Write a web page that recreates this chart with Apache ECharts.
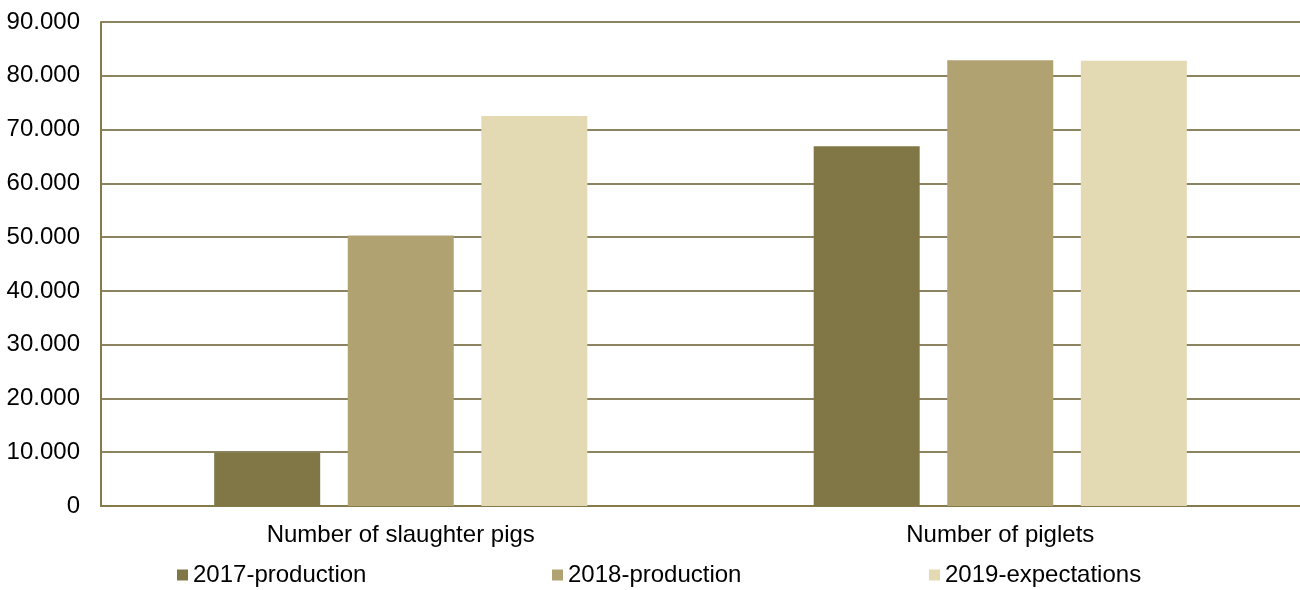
<!DOCTYPE html>
<html>
<head>
<meta charset="utf-8">
<title>Pigs</title>
<script src="https://cdn.jsdelivr.net/npm/echarts@6/dist/echarts.min.js"></script>
<style>
    html, body { margin: 0; padding: 0; background: #fff; }
    #main { width: 1300px; height: 590px; }
</style>
</head>
<body>
<div id="main"></div>
<script>
/** data */
var categories = ['Number of slaughter pigs', 'Number of piglets'];
var seriesNames = ['2017-production', '2018-production', '2019-expectations'];
var production2017 = [9900, 66900];
var production2018 = [50300, 82900];
var expectations2019 = [72500, 82800];
var colors = ['#817746', '#b0a371', '#e3dab3'];

(function () {

    var FONT = '"Liberation Sans", Arial, sans-serif';

    /**
     * 90000 -> 90.000
     */
    function fmt(v) {
        return String(v).replace(/\B(?=(\d{3})+(?!\d))/g, '.');
    }

    function makeSeries(name, data, color) {
        return {
            name: name,
            type: 'bar',
            data: data,
            barWidth: 106,
            barGap: '26%',
            itemStyle: { color: color },
            emphasis: { disabled: true }
        };
    }

    // one legend per item so each sits at its own slot
    function makeLegend(name, left) {
        return {
            data: [name],
            left: left,
            top: 558,
            icon: 'rect',
            itemWidth: 11,
            itemHeight: 11,
            itemGap: 0,
            selectedMode: false,
            textStyle: { fontFamily: FONT, fontSize: 24, color: '#000' }
        };
    }

    var option = {
        animation: false,
        color: colors,
        legend: [
            makeLegend(seriesNames[0], 172),
            makeLegend(seriesNames[1], 547),
            makeLegend(seriesNames[2], 924)
        ],
        grid: { left: 101, right: 0, top: 22, bottom: 84 },
        xAxis: {
            type: 'category',
            data: categories,
            axisLine: { lineStyle: { color: '#857b4a', width: 2 } },
            axisTick: { show: false },
            axisLabel: { fontFamily: FONT, fontSize: 24, color: '#000', margin: 17 }
        },
        yAxis: {
            type: 'value',
            min: 0,
            max: 90000,
            interval: 10000,
            axisLine: { show: true, lineStyle: { color: '#857b4a', width: 2 } },
            axisTick: { show: false },
            splitLine: { lineStyle: { color: '#8c8360', width: 2 } },
            axisLabel: { fontFamily: FONT, fontSize: 24, color: '#000', margin: 21, formatter: fmt }
        },
        series: [
            makeSeries(seriesNames[0], production2017, colors[0]),
            makeSeries(seriesNames[1], production2018, colors[1]),
            makeSeries(seriesNames[2], expectations2019, colors[2])
        ]
    };

    var myChart = echarts.init(document.getElementById('main'), null, { renderer: 'canvas' });
    myChart.setOption(option);
})();
</script>
</body>
</html>
